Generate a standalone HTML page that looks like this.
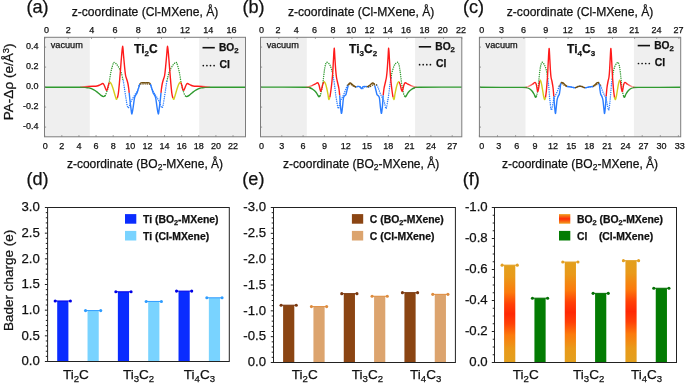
<!DOCTYPE html>
<html><head><meta charset="utf-8"><style>
html,body{margin:0;padding:0;background:#fff;width:685px;height:383px;overflow:hidden}
svg{display:block;will-change:transform}
</style></head><body>
<svg width="685" height="383" viewBox="0 0 685 383" font-family='"Liberation Sans", sans-serif'>
<rect width="685" height="383" fill="#fff"/>
<rect x="44.5" y="37.3" width="45.3" height="99.5" fill="#efefef"/>
<rect x="199.2" y="37.3" width="46.3" height="99.5" fill="#efefef"/>
<clipPath id="clipa"><rect x="44.5" y="37.3" width="201" height="99.5"/></clipPath>
<g clip-path="url(#clipa)">
<path d="M105.3,95.5 C105.5,95 106.1,93.58 106.5,92.5 C106.9,91.42 107.33,90.33 107.7,89 C108.07,87.67 108.4,85.92 108.7,84.5 C109,83.08 109.2,82.25 109.5,80.5 C109.8,78.75 110.15,75.92 110.5,74 C110.85,72.08 111.15,70.73 111.6,69 C112.05,67.27 112.73,64.7 113.2,63.6 C113.67,62.5 113.8,62.25 114.4,62.4 C115,62.55 115.98,63.5 116.8,64.5 C117.62,65.5 118.55,67 119.3,68.4 C120.05,69.8 120.72,71.15 121.3,72.9 C121.88,74.65 122.47,77.57 122.8,78.9 C123.13,80.23 123.22,80.57 123.3,80.9" fill="none" stroke="#2f9a2f" stroke-width="1.45" stroke-dasharray="0.01 2.15" stroke-linecap="round"/>
<path d="M166.9,80.9 C166.98,80.57 167.07,80.23 167.4,78.9 C167.73,77.57 168.32,74.65 168.9,72.9 C169.48,71.15 170.15,69.8 170.9,68.4 C171.65,67 172.58,65.5 173.4,64.5 C174.22,63.5 175.2,62.55 175.8,62.4 C176.4,62.25 176.53,62.5 177,63.6 C177.47,64.7 178.15,67.27 178.6,69 C179.05,70.73 179.35,72.08 179.7,74 C180.05,75.92 180.4,78.75 180.7,80.5 C181,82.25 181.2,83.08 181.5,84.5 C181.8,85.92 182.13,87.67 182.5,89 C182.87,90.33 183.3,91.42 183.7,92.5 C184.1,93.58 184.7,95 184.9,95.5" fill="none" stroke="#2f9a2f" stroke-width="1.45" stroke-dasharray="0.01 2.15" stroke-linecap="round"/>
<path d="M123.3,80.9 C123.48,82.07 123.97,85.07 124.4,87.9 C124.83,90.73 125.43,94.97 125.9,97.9 C126.37,100.83 126.8,103.85 127.2,105.5 C127.6,107.15 127.92,107.8 128.3,107.8 C128.68,107.8 129.08,106.47 129.5,105.5 C129.92,104.53 130.32,103.1 130.8,102 C131.28,100.9 131.73,100.08 132.4,98.9 C133.07,97.72 133.9,96.4 134.8,94.9 C135.7,93.4 137.05,91.48 137.8,89.9 C138.55,88.32 139.05,86.15 139.3,85.4" fill="none" stroke="#2a7cff" stroke-width="1.45" stroke-dasharray="0.01 2.15" stroke-linecap="round"/>
<path d="M150.9,85.4 C151.15,86.15 151.65,88.32 152.4,89.9 C153.15,91.48 154.5,93.4 155.4,94.9 C156.3,96.4 157.13,97.72 157.8,98.9 C158.47,100.08 158.92,100.9 159.4,102 C159.88,103.1 160.28,104.53 160.7,105.5 C161.12,106.47 161.52,107.8 161.9,107.8 C162.28,107.8 162.6,107.15 163,105.5 C163.4,103.85 163.83,100.83 164.3,97.9 C164.77,94.97 165.37,90.73 165.8,87.9 C166.23,85.07 166.72,82.07 166.9,80.9" fill="none" stroke="#2a7cff" stroke-width="1.45" stroke-dasharray="0.01 2.15" stroke-linecap="round"/>
<path d="M139.3,85.6 C139.52,85.37 139.98,84.47 140.6,84.2 C141.22,83.93 142.25,84.05 143,84 C143.75,83.95 144.75,83.92 145.1,83.9" fill="none" stroke="#735010" stroke-width="1.45" stroke-dasharray="0.01 2.15" stroke-linecap="round"/>
<path d="M145.1,83.9 C145.45,83.92 146.45,83.95 147.2,84 C147.95,84.05 148.98,83.93 149.6,84.2 C150.22,84.47 150.68,85.37 150.9,85.6" fill="none" stroke="#735010" stroke-width="1.45" stroke-dasharray="0.01 2.15" stroke-linecap="round"/>
<path d="M44.5,87.2 C50.42,87.22 73.08,87.25 80,87.3 C86.92,87.35 84.5,87.4 86,87.5 C87.5,87.6 88,87.68 89,87.9 C90,88.12 91,88.37 92,88.8 C93,89.23 94,89.83 95,90.5 C96,91.17 97,92 98,92.8 C99,93.6 100.07,94.67 101,95.3 C101.93,95.93 102.88,96.55 103.6,96.6 C104.32,96.65 105.02,95.77 105.3,95.6" fill="none" stroke="#2f9a2f" stroke-width="1.4" stroke-linejoin="round"/>
<path d="M184.9,95.6 C185.18,95.77 185.88,96.65 186.6,96.6 C187.32,96.55 188.27,95.93 189.2,95.3 C190.13,94.67 191.2,93.6 192.2,92.8 C193.2,92 194.2,91.17 195.2,90.5 C196.2,89.83 197.2,89.23 198.2,88.8 C199.2,88.37 200.2,88.12 201.2,87.9 C202.2,87.68 202.7,87.6 204.2,87.5 C205.7,87.4 203.28,87.35 210.2,87.3 C217.12,87.25 239.78,87.22 245.7,87.2" fill="none" stroke="#2f9a2f" stroke-width="1.4" stroke-linejoin="round"/>
<linearGradient id="rfaL" gradientUnits="userSpaceOnUse" x1="80" y1="0" x2="89" y2="0"><stop offset="0" stop-color="#ff1a1a" stop-opacity="0.15"/><stop offset="1" stop-color="#ff1a1a" stop-opacity="1"/></linearGradient>
<linearGradient id="rfaR" gradientUnits="userSpaceOnUse" x1="210.2" y1="0" x2="201.2" y2="0"><stop offset="0" stop-color="#ff1a1a" stop-opacity="0.15"/><stop offset="1" stop-color="#ff1a1a" stop-opacity="1"/></linearGradient>
<path d="M80,86.7 C81.33,86.67 85.83,86.57 88,86.5 C90.17,86.43 91.5,86.38 93,86.3 C94.5,86.22 95.92,86.2 97,86 C98.08,85.8 98.78,85.42 99.5,85.1 C100.22,84.78 100.77,84.37 101.3,84.1 C101.83,83.83 102.23,83.35 102.7,83.5 C103.17,83.65 103.67,84.25 104.1,85 C104.53,85.75 104.92,87.12 105.3,88 C105.68,88.88 106.05,90.1 106.4,90.3 C106.75,90.5 107.08,90 107.4,89.2 C107.72,88.4 107.98,86.6 108.3,85.5 C108.62,84.4 109.13,83.08 109.3,82.6" fill="none" stroke="url(#rfaL)" stroke-width="1.4" stroke-linejoin="round"/>
<path d="M180.9,82.6 C181.07,83.08 181.58,84.4 181.9,85.5 C182.22,86.6 182.48,88.4 182.8,89.2 C183.12,90 183.45,90.5 183.8,90.3 C184.15,90.1 184.52,88.88 184.9,88 C185.28,87.12 185.67,85.75 186.1,85 C186.53,84.25 187.03,83.65 187.5,83.5 C187.97,83.35 188.37,83.83 188.9,84.1 C189.43,84.37 189.98,84.78 190.7,85.1 C191.42,85.42 192.12,85.8 193.2,86 C194.28,86.2 195.7,86.22 197.2,86.3 C198.7,86.38 200.03,86.43 202.2,86.5 C204.37,86.57 208.87,86.67 210.2,86.7" fill="none" stroke="url(#rfaR)" stroke-width="1.4" stroke-linejoin="round"/>
<path d="M109.3,82.6 C109.43,82.57 109.72,82.08 110.1,82.4 C110.48,82.72 111.08,83.4 111.6,84.5 C112.12,85.6 112.67,87.33 113.2,89 C113.73,90.67 114.28,92.8 114.8,94.5 C115.32,96.2 115.87,98.65 116.3,99.2 C116.73,99.75 117.22,98.03 117.4,97.8" fill="none" stroke="#d4cc1c" stroke-width="1.4" stroke-linejoin="round"/>
<path d="M172.8,97.8 C172.98,98.03 173.47,99.75 173.9,99.2 C174.33,98.65 174.88,96.2 175.4,94.5 C175.92,92.8 176.47,90.67 177,89 C177.53,87.33 178.08,85.6 178.6,84.5 C179.12,83.4 179.72,82.72 180.1,82.4 C180.48,82.08 180.77,82.57 180.9,82.6" fill="none" stroke="#d4cc1c" stroke-width="1.4" stroke-linejoin="round"/>
<path d="M117.4,97.8 C117.57,97 118.07,95.47 118.4,93 C118.73,90.53 119.07,86.67 119.4,83 C119.73,79.33 120.05,75.33 120.4,71 C120.75,66.67 121.13,61.12 121.5,57 C121.87,52.88 122.25,46.47 122.6,46.3 C122.95,46.13 123.27,52.55 123.6,56 C123.93,59.45 124.27,63.75 124.6,67 C124.93,70.25 125.23,73.42 125.6,75.5 C125.97,77.58 126.42,78.17 126.8,79.5 C127.18,80.83 127.58,82 127.9,83.5 C128.22,85 128.48,86.95 128.7,88.5 C128.92,90.05 129.12,92.08 129.2,92.8" fill="none" stroke="#ff1a1a" stroke-width="1.4" stroke-linejoin="round"/>
<path d="M161,92.8 C161.08,92.08 161.28,90.05 161.5,88.5 C161.72,86.95 161.98,85 162.3,83.5 C162.62,82 163.02,80.83 163.4,79.5 C163.78,78.17 164.23,77.58 164.6,75.5 C164.97,73.42 165.27,70.25 165.6,67 C165.93,63.75 166.27,59.45 166.6,56 C166.93,52.55 167.25,46.13 167.6,46.3 C167.95,46.47 168.33,52.88 168.7,57 C169.07,61.12 169.45,66.67 169.8,71 C170.15,75.33 170.47,79.33 170.8,83 C171.13,86.67 171.47,90.53 171.8,93 C172.13,95.47 172.63,97 172.8,97.8" fill="none" stroke="#ff1a1a" stroke-width="1.4" stroke-linejoin="round"/>
<path d="M129.2,92.8 C129.32,93.97 129.62,97.3 129.9,99.8 C130.18,102.3 130.57,105.43 130.9,107.8 C131.23,110.17 131.52,114.13 131.9,114 C132.28,113.87 132.77,109.67 133.2,107 C133.63,104.33 134.07,100 134.5,98 C134.93,96 135.38,95.83 135.8,95 C136.22,94.17 136.58,94.02 137,93 C137.42,91.98 137.83,90.4 138.3,88.9 C138.77,87.4 139.55,84.82 139.8,84" fill="none" stroke="#2a7cff" stroke-width="1.4" stroke-linejoin="round"/>
<path d="M150.4,84 C150.65,84.82 151.43,87.4 151.9,88.9 C152.37,90.4 152.78,91.98 153.2,93 C153.62,94.02 153.98,94.17 154.4,95 C154.82,95.83 155.27,96 155.7,98 C156.13,100 156.57,104.33 157,107 C157.43,109.67 157.92,113.87 158.3,114 C158.68,114.13 158.97,110.17 159.3,107.8 C159.63,105.43 160.02,102.3 160.3,99.8 C160.58,97.3 160.88,93.97 161,92.8" fill="none" stroke="#2a7cff" stroke-width="1.4" stroke-linejoin="round"/>
<path d="M139.8,84.2 C139.93,84 140.15,83.23 140.6,83 C141.05,82.77 141.75,82.85 142.5,82.8 C143.25,82.75 144.67,82.72 145.1,82.7" fill="none" stroke="#735010" stroke-width="1.4" stroke-linejoin="round"/>
<path d="M145.1,82.7 C145.53,82.72 146.95,82.75 147.7,82.8 C148.45,82.85 149.15,82.77 149.6,83 C150.05,83.23 150.27,84 150.4,84.2" fill="none" stroke="#735010" stroke-width="1.4" stroke-linejoin="round"/>
</g>
<rect x="44.5" y="37.3" width="201" height="99.5" fill="none" stroke="#7d7d7d" stroke-width="1"/>
<line x1="44.9" y1="37.3" x2="44.9" y2="38.9" stroke="#7d7d7d" stroke-width="0.8"/>
<text x="46.4" y="32.9" font-size="9.0" text-anchor="middle" font-weight="normal" fill="#111" stroke="#111" stroke-width="0.25" >0</text>
<line x1="68.22" y1="37.3" x2="68.22" y2="38.9" stroke="#7d7d7d" stroke-width="0.8"/>
<text x="68.32" y="32.9" font-size="9.0" text-anchor="middle" font-weight="normal" fill="#111" stroke="#111" stroke-width="0.25" >2</text>
<line x1="91.54" y1="37.3" x2="91.54" y2="38.9" stroke="#7d7d7d" stroke-width="0.8"/>
<text x="91.64" y="32.9" font-size="9.0" text-anchor="middle" font-weight="normal" fill="#111" stroke="#111" stroke-width="0.25" >4</text>
<line x1="114.86" y1="37.3" x2="114.86" y2="38.9" stroke="#7d7d7d" stroke-width="0.8"/>
<text x="114.96" y="32.9" font-size="9.0" text-anchor="middle" font-weight="normal" fill="#111" stroke="#111" stroke-width="0.25" >6</text>
<line x1="138.18" y1="37.3" x2="138.18" y2="38.9" stroke="#7d7d7d" stroke-width="0.8"/>
<text x="138.28" y="32.9" font-size="9.0" text-anchor="middle" font-weight="normal" fill="#111" stroke="#111" stroke-width="0.25" >8</text>
<line x1="161.5" y1="37.3" x2="161.5" y2="38.9" stroke="#7d7d7d" stroke-width="0.8"/>
<text x="161.6" y="32.9" font-size="9.0" text-anchor="middle" font-weight="normal" fill="#111" stroke="#111" stroke-width="0.25" >10</text>
<line x1="184.82" y1="37.3" x2="184.82" y2="38.9" stroke="#7d7d7d" stroke-width="0.8"/>
<text x="184.92" y="32.9" font-size="9.0" text-anchor="middle" font-weight="normal" fill="#111" stroke="#111" stroke-width="0.25" >12</text>
<line x1="208.14" y1="37.3" x2="208.14" y2="38.9" stroke="#7d7d7d" stroke-width="0.8"/>
<text x="208.24" y="32.9" font-size="9.0" text-anchor="middle" font-weight="normal" fill="#111" stroke="#111" stroke-width="0.25" >14</text>
<line x1="231.46" y1="37.3" x2="231.46" y2="38.9" stroke="#7d7d7d" stroke-width="0.8"/>
<text x="231.56" y="32.9" font-size="9.0" text-anchor="middle" font-weight="normal" fill="#111" stroke="#111" stroke-width="0.25" >16</text>
<line x1="44.7" y1="136.8" x2="44.7" y2="135.2" stroke="#7d7d7d" stroke-width="0.8"/>
<text x="45.2" y="149.3" font-size="9.0" text-anchor="middle" font-weight="normal" fill="#111" stroke="#111" stroke-width="0.25" >0</text>
<line x1="61.82" y1="136.8" x2="61.82" y2="135.2" stroke="#7d7d7d" stroke-width="0.8"/>
<text x="61.82" y="149.3" font-size="9.0" text-anchor="middle" font-weight="normal" fill="#111" stroke="#111" stroke-width="0.25" >2</text>
<line x1="78.94" y1="136.8" x2="78.94" y2="135.2" stroke="#7d7d7d" stroke-width="0.8"/>
<text x="78.94" y="149.3" font-size="9.0" text-anchor="middle" font-weight="normal" fill="#111" stroke="#111" stroke-width="0.25" >4</text>
<line x1="96.06" y1="136.8" x2="96.06" y2="135.2" stroke="#7d7d7d" stroke-width="0.8"/>
<text x="96.06" y="149.3" font-size="9.0" text-anchor="middle" font-weight="normal" fill="#111" stroke="#111" stroke-width="0.25" >6</text>
<line x1="113.18" y1="136.8" x2="113.18" y2="135.2" stroke="#7d7d7d" stroke-width="0.8"/>
<text x="113.18" y="149.3" font-size="9.0" text-anchor="middle" font-weight="normal" fill="#111" stroke="#111" stroke-width="0.25" >8</text>
<line x1="130.3" y1="136.8" x2="130.3" y2="135.2" stroke="#7d7d7d" stroke-width="0.8"/>
<text x="130.3" y="149.3" font-size="9.0" text-anchor="middle" font-weight="normal" fill="#111" stroke="#111" stroke-width="0.25" >10</text>
<line x1="147.42" y1="136.8" x2="147.42" y2="135.2" stroke="#7d7d7d" stroke-width="0.8"/>
<text x="147.42" y="149.3" font-size="9.0" text-anchor="middle" font-weight="normal" fill="#111" stroke="#111" stroke-width="0.25" >12</text>
<line x1="164.54" y1="136.8" x2="164.54" y2="135.2" stroke="#7d7d7d" stroke-width="0.8"/>
<text x="164.54" y="149.3" font-size="9.0" text-anchor="middle" font-weight="normal" fill="#111" stroke="#111" stroke-width="0.25" >14</text>
<line x1="181.66" y1="136.8" x2="181.66" y2="135.2" stroke="#7d7d7d" stroke-width="0.8"/>
<text x="181.66" y="149.3" font-size="9.0" text-anchor="middle" font-weight="normal" fill="#111" stroke="#111" stroke-width="0.25" >16</text>
<line x1="198.78" y1="136.8" x2="198.78" y2="135.2" stroke="#7d7d7d" stroke-width="0.8"/>
<text x="198.78" y="149.3" font-size="9.0" text-anchor="middle" font-weight="normal" fill="#111" stroke="#111" stroke-width="0.25" >18</text>
<line x1="215.9" y1="136.8" x2="215.9" y2="135.2" stroke="#7d7d7d" stroke-width="0.8"/>
<text x="215.9" y="149.3" font-size="9.0" text-anchor="middle" font-weight="normal" fill="#111" stroke="#111" stroke-width="0.25" >20</text>
<line x1="233.02" y1="136.8" x2="233.02" y2="135.2" stroke="#7d7d7d" stroke-width="0.8"/>
<text x="233.02" y="149.3" font-size="9.0" text-anchor="middle" font-weight="normal" fill="#111" stroke="#111" stroke-width="0.25" >22</text>
<line x1="44.5" y1="47.1" x2="46.1" y2="47.1" stroke="#7d7d7d" stroke-width="0.8"/>
<text x="38.6" y="49.3" font-size="9.0" text-anchor="end" font-weight="normal" fill="#111" stroke="#111" stroke-width="0.25" >0.4</text>
<line x1="44.5" y1="67.1" x2="46.1" y2="67.1" stroke="#7d7d7d" stroke-width="0.8"/>
<text x="38.6" y="69.3" font-size="9.0" text-anchor="end" font-weight="normal" fill="#111" stroke="#111" stroke-width="0.25" >0.2</text>
<line x1="44.5" y1="87.1" x2="46.1" y2="87.1" stroke="#7d7d7d" stroke-width="0.8"/>
<text x="38.6" y="89.3" font-size="9.0" text-anchor="end" font-weight="normal" fill="#111" stroke="#111" stroke-width="0.25" >0.0</text>
<line x1="44.5" y1="107.1" x2="46.1" y2="107.1" stroke="#7d7d7d" stroke-width="0.8"/>
<text x="38.6" y="109.3" font-size="9.0" text-anchor="end" font-weight="normal" fill="#111" stroke="#111" stroke-width="0.25" >-0.2</text>
<line x1="44.5" y1="127.1" x2="46.1" y2="127.1" stroke="#7d7d7d" stroke-width="0.8"/>
<text x="38.6" y="129.3" font-size="9.0" text-anchor="end" font-weight="normal" fill="#111" stroke="#111" stroke-width="0.25" >-0.4</text>
<text x="50.7" y="47.9" font-size="9.2" text-anchor="start" font-weight="normal" fill="#111" stroke="#111" stroke-width="0.25" >vacuum</text>
<text x="134.1" y="52.9" font-size="12" text-anchor="start" font-weight="bold" fill="#111" stroke="#111" stroke-width="0.25" >Ti<tspan font-size="8" dy="2.6">2</tspan><tspan dy="-2.6">C</tspan></text>
<line x1="202.5" y1="47.7" x2="214.8" y2="47.7" stroke="#111" stroke-width="1.6"/>
<circle cx="203.3" cy="65.6" r="0.85" fill="#111"/>
<circle cx="206.9" cy="65.6" r="0.85" fill="#111"/>
<circle cx="210.5" cy="65.6" r="0.85" fill="#111"/>
<circle cx="214.1" cy="65.6" r="0.85" fill="#111"/>
<text x="219" y="51.2" font-size="10.2" text-anchor="start" font-weight="bold" fill="#111" stroke="#111" stroke-width="0.25" >BO<tspan font-size="7.8" dy="1.7">2</tspan></text>
<text x="219.6" y="67.9" font-size="10.4" text-anchor="start" font-weight="bold" fill="#111" stroke="#111" stroke-width="0.25" >Cl</text>
<text x="145" y="15.8" font-size="12.1" text-anchor="middle" font-weight="normal" fill="#111" stroke="#111" stroke-width="0.25" >z-coordinate (Cl-MXene, Å)</text>
<text x="145" y="167.8" font-size="12.0" text-anchor="middle" font-weight="normal" fill="#111" stroke="#111" stroke-width="0.25" >z-coordinate (BO<tspan font-size="8.5" dy="2.5">2</tspan><tspan dy="-2.5">-MXene, Å)</tspan></text>
<text x="26.4" y="13" font-size="18.1" text-anchor="start" font-weight="normal" fill="#111" stroke="#111" stroke-width="0.25" >(a)</text>
<rect x="260.5" y="37.3" width="46.3" height="99.5" fill="#efefef"/>
<rect x="415.1" y="37.3" width="46.7" height="99.5" fill="#efefef"/>
<clipPath id="clipb"><rect x="260.5" y="37.3" width="201.3" height="99.5"/></clipPath>
<g clip-path="url(#clipb)">
<path d="M320.2,95.6 C320.33,95.13 320.7,94.08 321,92.8 C321.3,91.52 321.67,89.72 322,87.9 C322.33,86.08 322.7,84.05 323,81.9 C323.3,79.75 323.53,77.15 323.8,75 C324.07,72.85 324.3,70.83 324.6,69 C324.9,67.17 325.23,65.12 325.6,64 C325.97,62.88 326.27,62.38 326.8,62.3 C327.33,62.22 328.22,62.92 328.8,63.5 C329.38,64.08 329.82,64.75 330.3,65.8 C330.78,66.85 331.3,68.47 331.7,69.8 C332.1,71.13 332.43,72.48 332.7,73.8 C332.97,75.12 333.2,77.05 333.3,77.7" fill="none" stroke="#2f9a2f" stroke-width="1.45" stroke-dasharray="0.01 2.15" stroke-linecap="round"/>
<path d="M391.1,77.7 C391.2,77.05 391.43,75.12 391.7,73.8 C391.97,72.48 392.3,71.13 392.7,69.8 C393.1,68.47 393.62,66.85 394.1,65.8 C394.58,64.75 395.02,64.08 395.6,63.5 C396.18,62.92 397.07,62.22 397.6,62.3 C398.13,62.38 398.43,62.88 398.8,64 C399.17,65.12 399.5,67.17 399.8,69 C400.1,70.83 400.33,72.85 400.6,75 C400.87,77.15 401.1,79.75 401.4,81.9 C401.7,84.05 402.07,86.08 402.4,87.9 C402.73,89.72 403.1,91.52 403.4,92.8 C403.7,94.08 404.07,95.13 404.2,95.6" fill="none" stroke="#2f9a2f" stroke-width="1.45" stroke-dasharray="0.01 2.15" stroke-linecap="round"/>
<path d="M333.3,77.7 C333.42,78.25 333.73,79.3 334,81 C334.27,82.7 334.58,85.42 334.9,87.9 C335.22,90.38 335.57,93.58 335.9,95.9 C336.23,98.22 336.57,99.87 336.9,101.8 C337.23,103.73 337.62,106.42 337.9,107.5 C338.18,108.58 338.32,108.88 338.6,108.3 C338.88,107.72 339.27,105.3 339.6,104 C339.93,102.7 340.17,101.58 340.6,100.5 C341.03,99.42 341.65,98.58 342.2,97.5 C342.75,96.42 343.37,95.25 343.9,94 C344.43,92.75 344.95,91.17 345.4,90 C345.85,88.83 346.25,87.8 346.6,87 C346.95,86.2 347.35,85.5 347.5,85.2" fill="none" stroke="#2a7cff" stroke-width="1.45" stroke-dasharray="0.01 2.15" stroke-linecap="round"/>
<path d="M376.9,85.2 C377.05,85.5 377.45,86.2 377.8,87 C378.15,87.8 378.55,88.83 379,90 C379.45,91.17 379.97,92.75 380.5,94 C381.03,95.25 381.65,96.42 382.2,97.5 C382.75,98.58 383.37,99.42 383.8,100.5 C384.23,101.58 384.47,102.7 384.8,104 C385.13,105.3 385.52,107.72 385.8,108.3 C386.08,108.88 386.22,108.58 386.5,107.5 C386.78,106.42 387.17,103.73 387.5,101.8 C387.83,99.87 388.17,98.22 388.5,95.9 C388.83,93.58 389.18,90.38 389.5,87.9 C389.82,85.42 390.13,82.7 390.4,81 C390.67,79.3 390.98,78.25 391.1,77.7" fill="none" stroke="#2a7cff" stroke-width="1.45" stroke-dasharray="0.01 2.15" stroke-linecap="round"/>
<path d="M347.5,85.2 C347.88,85 349.08,84.03 349.8,84 C350.52,83.97 351.13,84.6 351.8,85 C352.47,85.4 353.13,86.05 353.8,86.4 C354.47,86.75 355.47,86.98 355.8,87.1" fill="none" stroke="#735010" stroke-width="1.45" stroke-dasharray="0.01 2.15" stroke-linecap="round"/>
<path d="M368.6,87.1 C368.93,86.98 369.93,86.75 370.6,86.4 C371.27,86.05 371.93,85.4 372.6,85 C373.27,84.6 373.88,83.97 374.6,84 C375.32,84.03 376.52,85 376.9,85.2" fill="none" stroke="#735010" stroke-width="1.45" stroke-dasharray="0.01 2.15" stroke-linecap="round"/>
<path d="M355.8,87.1 C356.13,87.02 357.13,86.65 357.8,86.6 C358.47,86.55 359.18,86.47 359.8,86.8 C360.42,87.13 361.22,88.3 361.5,88.6" fill="none" stroke="#2a7cff" stroke-width="1.45" stroke-dasharray="0.01 2.15" stroke-linecap="round"/>
<path d="M362.9,88.6 C363.18,88.3 363.98,87.13 364.6,86.8 C365.22,86.47 365.93,86.55 366.6,86.6 C367.27,86.65 368.27,87.02 368.6,87.1" fill="none" stroke="#2a7cff" stroke-width="1.45" stroke-dasharray="0.01 2.15" stroke-linecap="round"/>
<path d="M260.5,87.1 C267.92,87.12 296.75,87.05 305,87.2 C313.25,87.35 308.67,87.62 310,88 C311.33,88.38 312,88.8 313,89.5 C314,90.2 315.17,91.2 316,92.2 C316.83,93.2 317.5,94.73 318,95.5 C318.5,96.27 318.63,96.78 319,96.8 C319.37,96.82 320,95.8 320.2,95.6" fill="none" stroke="#2f9a2f" stroke-width="1.4" stroke-linejoin="round"/>
<path d="M404.2,95.6 C404.4,95.8 405.03,96.82 405.4,96.8 C405.77,96.78 405.9,96.27 406.4,95.5 C406.9,94.73 407.57,93.2 408.4,92.2 C409.23,91.2 410.4,90.2 411.4,89.5 C412.4,88.8 413.07,88.38 414.4,88 C415.73,87.62 411.15,87.35 419.4,87.2 C427.65,87.05 456.48,87.12 463.9,87.1" fill="none" stroke="#2f9a2f" stroke-width="1.4" stroke-linejoin="round"/>
<linearGradient id="rfbL" gradientUnits="userSpaceOnUse" x1="305.5" y1="0" x2="314.5" y2="0"><stop offset="0" stop-color="#ff1a1a" stop-opacity="0.15"/><stop offset="1" stop-color="#ff1a1a" stop-opacity="1"/></linearGradient>
<linearGradient id="rfbR" gradientUnits="userSpaceOnUse" x1="417.4" y1="0" x2="408.4" y2="0"><stop offset="0" stop-color="#ff1a1a" stop-opacity="0.15"/><stop offset="1" stop-color="#ff1a1a" stop-opacity="1"/></linearGradient>
<path d="M305.5,87 C305.73,86.98 306.32,86.97 306.9,86.9 C307.48,86.83 308.15,86.82 309,86.6 C309.85,86.38 311,86 312,85.6 C313,85.2 314.07,84.67 315,84.2 C315.93,83.73 316.95,82.7 317.6,82.8 C318.25,82.9 318.48,83.68 318.9,84.8 C319.32,85.92 319.78,88.4 320.1,89.5 C320.42,90.6 320.53,91.48 320.8,91.4 C321.07,91.32 321.38,90.13 321.7,89 C322.02,87.87 322.35,85.77 322.7,84.6 C323.05,83.43 323.62,82.43 323.8,82" fill="none" stroke="url(#rfbL)" stroke-width="1.4" stroke-linejoin="round"/>
<path d="M399.1,82 C399.28,82.43 399.85,83.43 400.2,84.6 C400.55,85.77 400.88,87.87 401.2,89 C401.52,90.13 401.83,91.32 402.1,91.4 C402.37,91.48 402.48,90.6 402.8,89.5 C403.12,88.4 403.58,85.92 404,84.8 C404.42,83.68 404.65,82.9 405.3,82.8 C405.95,82.7 406.97,83.73 407.9,84.2 C408.83,84.67 409.9,85.2 410.9,85.6 C411.9,86 413.05,86.38 413.9,86.6 C414.75,86.82 415.42,86.83 416,86.9 C416.58,86.97 417.17,86.98 417.4,87" fill="none" stroke="url(#rfbR)" stroke-width="1.4" stroke-linejoin="round"/>
<path d="M323.8,82 C323.88,81.95 324.02,81.4 324.3,81.7 C324.58,82 325.08,82.67 325.5,83.8 C325.92,84.93 326.38,86.72 326.8,88.5 C327.22,90.28 327.67,92.68 328,94.5 C328.33,96.32 328.48,98.95 328.8,99.4 C329.12,99.85 329.72,97.57 329.9,97.2" fill="none" stroke="#d4cc1c" stroke-width="1.4" stroke-linejoin="round"/>
<path d="M393,97.2 C393.18,97.57 393.78,99.85 394.1,99.4 C394.42,98.95 394.57,96.32 394.9,94.5 C395.23,92.68 395.68,90.28 396.1,88.5 C396.52,86.72 396.98,84.93 397.4,83.8 C397.82,82.67 398.32,82 398.6,81.7 C398.88,81.4 399.02,81.95 399.1,82" fill="none" stroke="#d4cc1c" stroke-width="1.4" stroke-linejoin="round"/>
<path d="M329.9,97.2 C330.07,96.08 330.57,93.03 330.9,90.5 C331.23,87.97 331.6,84.92 331.9,82 C332.2,79.08 332.43,76.83 332.7,73 C332.97,69.17 333.25,63.13 333.5,59 C333.75,54.87 333.97,48.37 334.2,48.2 C334.43,48.03 334.65,54.37 334.9,58 C335.15,61.63 335.43,66.75 335.7,70 C335.97,73.25 336.15,75.25 336.5,77.5 C336.85,79.75 337.4,81.67 337.8,83.5 C338.2,85.33 338.58,86.52 338.9,88.5 C339.22,90.48 339.57,94.25 339.7,95.4" fill="none" stroke="#ff1a1a" stroke-width="1.4" stroke-linejoin="round"/>
<path d="M383.2,95.4 C383.33,94.25 383.68,90.48 384,88.5 C384.32,86.52 384.7,85.33 385.1,83.5 C385.5,81.67 386.05,79.75 386.4,77.5 C386.75,75.25 386.93,73.25 387.2,70 C387.47,66.75 387.75,61.63 388,58 C388.25,54.37 388.47,48.03 388.7,48.2 C388.93,48.37 389.15,54.87 389.4,59 C389.65,63.13 389.93,69.17 390.2,73 C390.47,76.83 390.7,79.08 391,82 C391.3,84.92 391.67,87.97 392,90.5 C392.33,93.03 392.83,96.08 393,97.2" fill="none" stroke="#ff1a1a" stroke-width="1.4" stroke-linejoin="round"/>
<path d="M339.7,95.4 C339.82,97.03 340.12,102.22 340.4,105.2 C340.68,108.18 341.07,112.83 341.4,113.3 C341.73,113.77 342.07,110.47 342.4,108 C342.73,105.53 343.05,100.53 343.4,98.5 C343.75,96.47 344.08,96.45 344.5,95.8 C344.92,95.15 345.52,95.4 345.9,94.6 C346.28,93.8 346.48,92.27 346.8,91 C347.12,89.73 347.53,87.93 347.8,87 C348.07,86.07 348.3,85.67 348.4,85.4" fill="none" stroke="#2a7cff" stroke-width="1.4" stroke-linejoin="round"/>
<path d="M374.5,85.4 C374.6,85.67 374.83,86.07 375.1,87 C375.37,87.93 375.78,89.73 376.1,91 C376.42,92.27 376.62,93.8 377,94.6 C377.38,95.4 377.98,95.15 378.4,95.8 C378.82,96.45 379.15,96.47 379.5,98.5 C379.85,100.53 380.17,105.53 380.5,108 C380.83,110.47 381.17,113.77 381.5,113.3 C381.83,112.83 382.22,108.18 382.5,105.2 C382.78,102.22 383.08,97.03 383.2,95.4" fill="none" stroke="#2a7cff" stroke-width="1.4" stroke-linejoin="round"/>
<path d="M348.4,85.4 C348.5,85.1 348.68,84 349,83.6 C349.32,83.2 349.83,82.93 350.3,83 C350.77,83.07 351.3,83.6 351.8,84 C352.3,84.4 352.8,85 353.3,85.4 C353.8,85.8 354.3,86.15 354.8,86.4 C355.3,86.65 356.05,86.82 356.3,86.9" fill="none" stroke="#735010" stroke-width="1.4" stroke-linejoin="round"/>
<path d="M366.6,86.9 C366.85,86.82 367.6,86.65 368.1,86.4 C368.6,86.15 369.1,85.8 369.6,85.4 C370.1,85 370.6,84.4 371.1,84 C371.6,83.6 372.13,83.07 372.6,83 C373.07,82.93 373.58,83.2 373.9,83.6 C374.22,84 374.4,85.1 374.5,85.4" fill="none" stroke="#735010" stroke-width="1.4" stroke-linejoin="round"/>
<path d="M356.3,86.9 C356.55,86.82 357.22,86.43 357.8,86.4 C358.38,86.37 359.18,86.28 359.8,86.7 C360.42,87.12 361.22,88.53 361.5,88.9" fill="none" stroke="#2a7cff" stroke-width="1.4" stroke-linejoin="round"/>
<path d="M361.4,88.9 C361.68,88.53 362.48,87.12 363.1,86.7 C363.72,86.28 364.52,86.37 365.1,86.4 C365.68,86.43 366.35,86.82 366.6,86.9" fill="none" stroke="#2a7cff" stroke-width="1.4" stroke-linejoin="round"/>
</g>
<rect x="260.5" y="37.3" width="201.3" height="99.5" fill="none" stroke="#7d7d7d" stroke-width="1"/>
<line x1="260.5" y1="37.3" x2="260.5" y2="38.9" stroke="#7d7d7d" stroke-width="0.8"/>
<text x="261.4" y="32.9" font-size="9.0" text-anchor="middle" font-weight="normal" fill="#111" stroke="#111" stroke-width="0.25" >0</text>
<line x1="278.8" y1="37.3" x2="278.8" y2="38.9" stroke="#7d7d7d" stroke-width="0.8"/>
<text x="278" y="32.9" font-size="9.0" text-anchor="middle" font-weight="normal" fill="#111" stroke="#111" stroke-width="0.25" >2</text>
<line x1="297.1" y1="37.3" x2="297.1" y2="38.9" stroke="#7d7d7d" stroke-width="0.8"/>
<text x="296.3" y="32.9" font-size="9.0" text-anchor="middle" font-weight="normal" fill="#111" stroke="#111" stroke-width="0.25" >4</text>
<line x1="315.4" y1="37.3" x2="315.4" y2="38.9" stroke="#7d7d7d" stroke-width="0.8"/>
<text x="314.6" y="32.9" font-size="9.0" text-anchor="middle" font-weight="normal" fill="#111" stroke="#111" stroke-width="0.25" >6</text>
<line x1="333.7" y1="37.3" x2="333.7" y2="38.9" stroke="#7d7d7d" stroke-width="0.8"/>
<text x="332.9" y="32.9" font-size="9.0" text-anchor="middle" font-weight="normal" fill="#111" stroke="#111" stroke-width="0.25" >8</text>
<line x1="352" y1="37.3" x2="352" y2="38.9" stroke="#7d7d7d" stroke-width="0.8"/>
<text x="351.2" y="32.9" font-size="9.0" text-anchor="middle" font-weight="normal" fill="#111" stroke="#111" stroke-width="0.25" >10</text>
<line x1="370.3" y1="37.3" x2="370.3" y2="38.9" stroke="#7d7d7d" stroke-width="0.8"/>
<text x="369.5" y="32.9" font-size="9.0" text-anchor="middle" font-weight="normal" fill="#111" stroke="#111" stroke-width="0.25" >12</text>
<line x1="388.6" y1="37.3" x2="388.6" y2="38.9" stroke="#7d7d7d" stroke-width="0.8"/>
<text x="387.8" y="32.9" font-size="9.0" text-anchor="middle" font-weight="normal" fill="#111" stroke="#111" stroke-width="0.25" >14</text>
<line x1="406.9" y1="37.3" x2="406.9" y2="38.9" stroke="#7d7d7d" stroke-width="0.8"/>
<text x="406.1" y="32.9" font-size="9.0" text-anchor="middle" font-weight="normal" fill="#111" stroke="#111" stroke-width="0.25" >16</text>
<line x1="425.2" y1="37.3" x2="425.2" y2="38.9" stroke="#7d7d7d" stroke-width="0.8"/>
<text x="424.4" y="32.9" font-size="9.0" text-anchor="middle" font-weight="normal" fill="#111" stroke="#111" stroke-width="0.25" >18</text>
<line x1="443.5" y1="37.3" x2="443.5" y2="38.9" stroke="#7d7d7d" stroke-width="0.8"/>
<text x="442.7" y="32.9" font-size="9.0" text-anchor="middle" font-weight="normal" fill="#111" stroke="#111" stroke-width="0.25" >20</text>
<line x1="461.8" y1="37.3" x2="461.8" y2="38.9" stroke="#7d7d7d" stroke-width="0.8"/>
<text x="461" y="32.9" font-size="9.0" text-anchor="middle" font-weight="normal" fill="#111" stroke="#111" stroke-width="0.25" >22</text>
<line x1="260.5" y1="136.8" x2="260.5" y2="135.2" stroke="#7d7d7d" stroke-width="0.8"/>
<text x="261.5" y="149.3" font-size="9.0" text-anchor="middle" font-weight="normal" fill="#111" stroke="#111" stroke-width="0.25" >0</text>
<line x1="281.8" y1="136.8" x2="281.8" y2="135.2" stroke="#7d7d7d" stroke-width="0.8"/>
<text x="281.8" y="149.3" font-size="9.0" text-anchor="middle" font-weight="normal" fill="#111" stroke="#111" stroke-width="0.25" >3</text>
<line x1="303.1" y1="136.8" x2="303.1" y2="135.2" stroke="#7d7d7d" stroke-width="0.8"/>
<text x="303.1" y="149.3" font-size="9.0" text-anchor="middle" font-weight="normal" fill="#111" stroke="#111" stroke-width="0.25" >6</text>
<line x1="324.4" y1="136.8" x2="324.4" y2="135.2" stroke="#7d7d7d" stroke-width="0.8"/>
<text x="324.4" y="149.3" font-size="9.0" text-anchor="middle" font-weight="normal" fill="#111" stroke="#111" stroke-width="0.25" >9</text>
<line x1="345.7" y1="136.8" x2="345.7" y2="135.2" stroke="#7d7d7d" stroke-width="0.8"/>
<text x="345.7" y="149.3" font-size="9.0" text-anchor="middle" font-weight="normal" fill="#111" stroke="#111" stroke-width="0.25" >12</text>
<line x1="367" y1="136.8" x2="367" y2="135.2" stroke="#7d7d7d" stroke-width="0.8"/>
<text x="367" y="149.3" font-size="9.0" text-anchor="middle" font-weight="normal" fill="#111" stroke="#111" stroke-width="0.25" >15</text>
<line x1="388.3" y1="136.8" x2="388.3" y2="135.2" stroke="#7d7d7d" stroke-width="0.8"/>
<text x="388.3" y="149.3" font-size="9.0" text-anchor="middle" font-weight="normal" fill="#111" stroke="#111" stroke-width="0.25" >18</text>
<line x1="409.6" y1="136.8" x2="409.6" y2="135.2" stroke="#7d7d7d" stroke-width="0.8"/>
<text x="409.6" y="149.3" font-size="9.0" text-anchor="middle" font-weight="normal" fill="#111" stroke="#111" stroke-width="0.25" >21</text>
<line x1="430.9" y1="136.8" x2="430.9" y2="135.2" stroke="#7d7d7d" stroke-width="0.8"/>
<text x="430.9" y="149.3" font-size="9.0" text-anchor="middle" font-weight="normal" fill="#111" stroke="#111" stroke-width="0.25" >24</text>
<line x1="452.2" y1="136.8" x2="452.2" y2="135.2" stroke="#7d7d7d" stroke-width="0.8"/>
<text x="452.2" y="149.3" font-size="9.0" text-anchor="middle" font-weight="normal" fill="#111" stroke="#111" stroke-width="0.25" >27</text>
<line x1="260.5" y1="47.1" x2="262.1" y2="47.1" stroke="#7d7d7d" stroke-width="0.8"/>
<line x1="260.5" y1="67.1" x2="262.1" y2="67.1" stroke="#7d7d7d" stroke-width="0.8"/>
<line x1="260.5" y1="87.1" x2="262.1" y2="87.1" stroke="#7d7d7d" stroke-width="0.8"/>
<line x1="260.5" y1="107.1" x2="262.1" y2="107.1" stroke="#7d7d7d" stroke-width="0.8"/>
<line x1="260.5" y1="127.1" x2="262.1" y2="127.1" stroke="#7d7d7d" stroke-width="0.8"/>
<text x="266.7" y="47.9" font-size="9.2" text-anchor="start" font-weight="normal" fill="#111" stroke="#111" stroke-width="0.25" >vacuum</text>
<text x="349.1" y="52.9" font-size="12" text-anchor="start" font-weight="bold" fill="#111" stroke="#111" stroke-width="0.25" >Ti<tspan font-size="8" dy="2.6">3</tspan><tspan dy="-2.6">C</tspan><tspan font-size="8" dy="2.6">2</tspan></text>
<line x1="418.8" y1="46.8" x2="431.1" y2="46.8" stroke="#111" stroke-width="1.6"/>
<circle cx="419.6" cy="64.7" r="0.85" fill="#111"/>
<circle cx="423.2" cy="64.7" r="0.85" fill="#111"/>
<circle cx="426.8" cy="64.7" r="0.85" fill="#111"/>
<circle cx="430.4" cy="64.7" r="0.85" fill="#111"/>
<text x="435.3" y="50.3" font-size="10.2" text-anchor="start" font-weight="bold" fill="#111" stroke="#111" stroke-width="0.25" >BO<tspan font-size="7.8" dy="1.7">2</tspan></text>
<text x="435.9" y="67" font-size="10.4" text-anchor="start" font-weight="bold" fill="#111" stroke="#111" stroke-width="0.25" >Cl</text>
<text x="361.15" y="15.8" font-size="12.1" text-anchor="middle" font-weight="normal" fill="#111" stroke="#111" stroke-width="0.25" >z-coordinate (Cl-MXene, Å)</text>
<text x="361.15" y="167.8" font-size="12.0" text-anchor="middle" font-weight="normal" fill="#111" stroke="#111" stroke-width="0.25" >z-coordinate (BO<tspan font-size="8.5" dy="2.5">2</tspan><tspan dy="-2.5">-MXene, Å)</tspan></text>
<text x="242.5" y="13" font-size="18.1" text-anchor="start" font-weight="normal" fill="#111" stroke="#111" stroke-width="0.25" >(b)</text>
<rect x="479.4" y="37.3" width="46.1" height="99.5" fill="#efefef"/>
<rect x="633.9" y="37.3" width="46.8" height="99.5" fill="#efefef"/>
<clipPath id="clipc"><rect x="479.4" y="37.3" width="201.3" height="99.5"/></clipPath>
<g clip-path="url(#clipc)">
<path d="M536.5,96 C536.62,95.5 536.95,94.33 537.2,93 C537.45,91.67 537.77,89.67 538,88 C538.23,86.33 538.42,84.75 538.6,83 C538.78,81.25 538.92,79.33 539.1,77.5 C539.28,75.67 539.47,73.83 539.7,72 C539.93,70.17 540.15,68.1 540.5,66.5 C540.85,64.9 541.3,62.9 541.8,62.4 C542.3,61.9 542.97,62.9 543.5,63.5 C544.03,64.1 544.53,64.92 545,66 C545.47,67.08 545.93,68.5 546.3,70 C546.67,71.5 546.95,73.5 547.2,75 C547.45,76.5 547.7,78.33 547.8,79" fill="none" stroke="#2f9a2f" stroke-width="1.45" stroke-dasharray="0.01 2.15" stroke-linecap="round"/>
<path d="M612.2,79 C612.3,78.33 612.55,76.5 612.8,75 C613.05,73.5 613.33,71.5 613.7,70 C614.07,68.5 614.53,67.08 615,66 C615.47,64.92 615.97,64.1 616.5,63.5 C617.03,62.9 617.7,61.9 618.2,62.4 C618.7,62.9 619.15,64.9 619.5,66.5 C619.85,68.1 620.07,70.17 620.3,72 C620.53,73.83 620.72,75.67 620.9,77.5 C621.08,79.33 621.22,81.25 621.4,83 C621.58,84.75 621.77,86.33 622,88 C622.23,89.67 622.55,91.67 622.8,93 C623.05,94.33 623.38,95.5 623.5,96" fill="none" stroke="#2f9a2f" stroke-width="1.45" stroke-dasharray="0.01 2.15" stroke-linecap="round"/>
<path d="M547.8,79 C547.9,79.67 548.22,81.5 548.4,83 C548.58,84.5 548.73,86 548.9,88 C549.07,90 549.23,93 549.4,95 C549.57,97 549.73,98.33 549.9,100 C550.07,101.67 550.22,103.53 550.4,105 C550.58,106.47 550.8,107.97 551,108.8 C551.2,109.63 551.35,110.55 551.6,110 C551.85,109.45 552.18,107.08 552.5,105.5 C552.82,103.92 553.17,101.87 553.5,100.5 C553.83,99.13 554.17,98.18 554.5,97.3 C554.83,96.42 555.17,95.88 555.5,95.2 C555.83,94.52 556.17,93.9 556.5,93.2 C556.83,92.5 557.17,91.87 557.5,91 C557.83,90.13 558.22,88.83 558.5,88 C558.78,87.17 559.08,86.33 559.2,86" fill="none" stroke="#2a7cff" stroke-width="1.45" stroke-dasharray="0.01 2.15" stroke-linecap="round"/>
<path d="M600.8,86 C600.92,86.33 601.22,87.17 601.5,88 C601.78,88.83 602.17,90.13 602.5,91 C602.83,91.87 603.17,92.5 603.5,93.2 C603.83,93.9 604.17,94.52 604.5,95.2 C604.83,95.88 605.17,96.42 605.5,97.3 C605.83,98.18 606.17,99.13 606.5,100.5 C606.83,101.87 607.18,103.92 607.5,105.5 C607.82,107.08 608.15,109.45 608.4,110 C608.65,110.55 608.8,109.63 609,108.8 C609.2,107.97 609.42,106.47 609.6,105 C609.78,103.53 609.93,101.67 610.1,100 C610.27,98.33 610.43,97 610.6,95 C610.77,93 610.93,90 611.1,88 C611.27,86 611.42,84.5 611.6,83 C611.78,81.5 612.1,79.67 612.2,79" fill="none" stroke="#2a7cff" stroke-width="1.45" stroke-dasharray="0.01 2.15" stroke-linecap="round"/>
<path d="M559.2,86 C559.37,85.72 559.8,84.72 560.2,84.3 C560.6,83.88 561.1,83.47 561.6,83.5 C562.1,83.53 562.63,84.15 563.2,84.5 C563.77,84.85 564.37,85.25 565,85.6 C565.63,85.95 566.67,86.43 567,86.6" fill="none" stroke="#735010" stroke-width="1.45" stroke-dasharray="0.01 2.15" stroke-linecap="round"/>
<path d="M593,86.6 C593.33,86.43 594.37,85.95 595,85.6 C595.63,85.25 596.23,84.85 596.8,84.5 C597.37,84.15 597.9,83.53 598.4,83.5 C598.9,83.47 599.4,83.88 599.8,84.3 C600.2,84.72 600.63,85.72 600.8,86" fill="none" stroke="#735010" stroke-width="1.45" stroke-dasharray="0.01 2.15" stroke-linecap="round"/>
<path d="M567,86.6 C567.5,86.65 569,86.75 570,86.9 C571,87.05 572.17,87.37 573,87.5 C573.83,87.63 574.42,87.75 575,87.7 C575.58,87.65 576,87.38 576.5,87.2 C577,87.02 577.42,86.75 578,86.6 C578.58,86.45 579.67,86.35 580,86.3" fill="none" stroke="#2a7cff" stroke-width="1.45" stroke-dasharray="0.01 2.15" stroke-linecap="round"/>
<path d="M580,86.3 C580.33,86.35 581.42,86.45 582,86.6 C582.58,86.75 583,87.02 583.5,87.2 C584,87.38 584.42,87.65 585,87.7 C585.58,87.75 586.17,87.63 587,87.5 C587.83,87.37 589,87.05 590,86.9 C591,86.75 592.5,86.65 593,86.6" fill="none" stroke="#2a7cff" stroke-width="1.45" stroke-dasharray="0.01 2.15" stroke-linecap="round"/>
<path d="M479.4,87.3 C486.5,87.32 514.23,87.35 522,87.4 C529.77,87.45 524.83,87.42 526,87.6 C527.17,87.78 528,87.93 529,88.5 C530,89.07 531.17,90.08 532,91 C532.83,91.92 533.42,92.97 534,94 C534.58,95.03 535.08,96.87 535.5,97.2 C535.92,97.53 536.33,96.2 536.5,96" fill="none" stroke="#2f9a2f" stroke-width="1.4" stroke-linejoin="round"/>
<path d="M623.5,96 C623.67,96.2 624.08,97.53 624.5,97.2 C624.92,96.87 625.42,95.03 626,94 C626.58,92.97 627.17,91.92 628,91 C628.83,90.08 630,89.07 631,88.5 C632,87.93 632.83,87.78 634,87.6 C635.17,87.42 630.23,87.45 638,87.4 C645.77,87.35 673.5,87.32 680.6,87.3" fill="none" stroke="#2f9a2f" stroke-width="1.4" stroke-linejoin="round"/>
<linearGradient id="rfcL" gradientUnits="userSpaceOnUse" x1="524.8" y1="0" x2="533.8" y2="0"><stop offset="0" stop-color="#ff1a1a" stop-opacity="0.15"/><stop offset="1" stop-color="#ff1a1a" stop-opacity="1"/></linearGradient>
<linearGradient id="rfcR" gradientUnits="userSpaceOnUse" x1="635.2" y1="0" x2="626.2" y2="0"><stop offset="0" stop-color="#ff1a1a" stop-opacity="0.15"/><stop offset="1" stop-color="#ff1a1a" stop-opacity="1"/></linearGradient>
<path d="M524.8,87.2 C524.98,87.18 525.37,87.2 525.9,87.1 C526.43,87 527.15,86.92 528,86.6 C528.85,86.28 530.17,85.67 531,85.2 C531.83,84.73 532.32,84.27 533,83.8 C533.68,83.33 534.55,82.28 535.1,82.4 C535.65,82.52 535.95,83.32 536.3,84.5 C536.65,85.68 536.95,88.32 537.2,89.5 C537.45,90.68 537.57,91.77 537.8,91.6 C538.03,91.43 538.33,89.93 538.6,88.5 C538.87,87.07 539.17,84.32 539.4,83 C539.63,81.68 539.9,81 540,80.6" fill="none" stroke="url(#rfcL)" stroke-width="1.4" stroke-linejoin="round"/>
<path d="M620,80.6 C620.1,81 620.37,81.68 620.6,83 C620.83,84.32 621.13,87.07 621.4,88.5 C621.67,89.93 621.97,91.43 622.2,91.6 C622.43,91.77 622.55,90.68 622.8,89.5 C623.05,88.32 623.35,85.68 623.7,84.5 C624.05,83.32 624.35,82.52 624.9,82.4 C625.45,82.28 626.32,83.33 627,83.8 C627.68,84.27 628.17,84.73 629,85.2 C629.83,85.67 631.15,86.28 632,86.6 C632.85,86.92 633.57,87 634.1,87.1 C634.63,87.2 635.02,87.18 635.2,87.2" fill="none" stroke="url(#rfcR)" stroke-width="1.4" stroke-linejoin="round"/>
<path d="M540,80.6 C540.07,80.55 540.15,79.77 540.4,80.3 C540.65,80.83 541.15,82.27 541.5,83.8 C541.85,85.33 542.17,87.55 542.5,89.5 C542.83,91.45 543.17,93.82 543.5,95.5 C543.83,97.18 544.17,99.3 544.5,99.6 C544.83,99.9 545.33,97.68 545.5,97.3" fill="none" stroke="#d4cc1c" stroke-width="1.4" stroke-linejoin="round"/>
<path d="M614.5,97.3 C614.67,97.68 615.17,99.9 615.5,99.6 C615.83,99.3 616.17,97.18 616.5,95.5 C616.83,93.82 617.17,91.45 617.5,89.5 C617.83,87.55 618.15,85.33 618.5,83.8 C618.85,82.27 619.35,80.83 619.6,80.3 C619.85,79.77 619.93,80.55 620,80.6" fill="none" stroke="#d4cc1c" stroke-width="1.4" stroke-linejoin="round"/>
<path d="M545.5,97.3 C545.65,96.17 546.13,93.05 546.4,90.5 C546.67,87.95 546.9,84.58 547.1,82 C547.3,79.42 547.4,78.5 547.6,75 C547.8,71.5 548.05,65.42 548.3,61 C548.55,56.58 548.85,48.83 549.1,48.5 C549.35,48.17 549.58,55.42 549.8,59 C550.02,62.58 550.2,67 550.4,70 C550.6,73 550.73,75.08 551,77 C551.27,78.92 551.67,79.75 552,81.5 C552.33,83.25 552.75,85.67 553,87.5 C553.25,89.33 553.37,91 553.5,92.5 C553.63,94 553.75,95.83 553.8,96.5" fill="none" stroke="#ff1a1a" stroke-width="1.4" stroke-linejoin="round"/>
<path d="M606.2,96.5 C606.25,95.83 606.37,94 606.5,92.5 C606.63,91 606.75,89.33 607,87.5 C607.25,85.67 607.67,83.25 608,81.5 C608.33,79.75 608.73,78.92 609,77 C609.27,75.08 609.4,73 609.6,70 C609.8,67 609.98,62.58 610.2,59 C610.42,55.42 610.65,48.17 610.9,48.5 C611.15,48.83 611.45,56.58 611.7,61 C611.95,65.42 612.2,71.5 612.4,75 C612.6,78.5 612.7,79.42 612.9,82 C613.1,84.58 613.33,87.95 613.6,90.5 C613.87,93.05 614.35,96.17 614.5,97.3" fill="none" stroke="#ff1a1a" stroke-width="1.4" stroke-linejoin="round"/>
<path d="M553.8,96.5 C553.92,98 554.23,102.68 554.5,105.5 C554.77,108.32 555.12,112.98 555.4,113.4 C555.68,113.82 555.93,110.15 556.2,108 C556.47,105.85 556.73,102.3 557,100.5 C557.27,98.7 557.55,98.02 557.8,97.2 C558.05,96.38 558.25,96.08 558.5,95.6 C558.75,95.12 559.05,95.23 559.3,94.3 C559.55,93.37 559.8,91.47 560,90 C560.2,88.53 560.33,86.63 560.5,85.5 C560.67,84.37 560.92,83.58 561,83.2" fill="none" stroke="#2a7cff" stroke-width="1.4" stroke-linejoin="round"/>
<path d="M599,83.2 C599.08,83.58 599.33,84.37 599.5,85.5 C599.67,86.63 599.8,88.53 600,90 C600.2,91.47 600.45,93.37 600.7,94.3 C600.95,95.23 601.25,95.12 601.5,95.6 C601.75,96.08 601.95,96.38 602.2,97.2 C602.45,98.02 602.73,98.7 603,100.5 C603.27,102.3 603.53,105.85 603.8,108 C604.07,110.15 604.32,113.82 604.6,113.4 C604.88,112.98 605.23,108.32 605.5,105.5 C605.77,102.68 606.08,98 606.2,96.5" fill="none" stroke="#2a7cff" stroke-width="1.4" stroke-linejoin="round"/>
<path d="M561,83.2 C561.1,83.08 561.27,82.55 561.6,82.5 C561.93,82.45 562.52,82.6 563,82.9 C563.48,83.2 564,83.85 564.5,84.3 C565,84.75 565.58,85.25 566,85.6 C566.42,85.95 566.83,86.27 567,86.4" fill="none" stroke="#735010" stroke-width="1.4" stroke-linejoin="round"/>
<path d="M593,86.4 C593.17,86.27 593.58,85.95 594,85.6 C594.42,85.25 595,84.75 595.5,84.3 C596,83.85 596.52,83.2 597,82.9 C597.48,82.6 598.07,82.45 598.4,82.5 C598.73,82.55 598.9,83.08 599,83.2" fill="none" stroke="#735010" stroke-width="1.4" stroke-linejoin="round"/>
<path d="M567,86.4 C567.5,86.45 569,86.53 570,86.7 C571,86.87 572.17,87.22 573,87.4 C573.83,87.58 574.67,87.73 575,87.8" fill="none" stroke="#2a7cff" stroke-width="1.4" stroke-linejoin="round"/>
<path d="M585,87.8 C585.33,87.73 586.17,87.58 587,87.4 C587.83,87.22 589,86.87 590,86.7 C591,86.53 592.5,86.45 593,86.4" fill="none" stroke="#2a7cff" stroke-width="1.4" stroke-linejoin="round"/>
<path d="M575,87.8 C575.2,87.73 575.7,87.62 576.2,87.4 C576.7,87.18 577.37,86.7 578,86.5 C578.63,86.3 579.67,86.25 580,86.2" fill="none" stroke="#735010" stroke-width="1.4" stroke-linejoin="round"/>
<path d="M580,86.2 C580.33,86.25 581.37,86.3 582,86.5 C582.63,86.7 583.3,87.18 583.8,87.4 C584.3,87.62 584.8,87.73 585,87.8" fill="none" stroke="#735010" stroke-width="1.4" stroke-linejoin="round"/>
</g>
<rect x="479.4" y="37.3" width="201.3" height="99.5" fill="none" stroke="#7d7d7d" stroke-width="1"/>
<line x1="479.6" y1="37.3" x2="479.6" y2="38.9" stroke="#7d7d7d" stroke-width="0.8"/>
<text x="481.8" y="32.9" font-size="9.0" text-anchor="middle" font-weight="normal" fill="#111" stroke="#111" stroke-width="0.25" >0</text>
<line x1="501.74" y1="37.3" x2="501.74" y2="38.9" stroke="#7d7d7d" stroke-width="0.8"/>
<text x="501.44" y="32.9" font-size="9.0" text-anchor="middle" font-weight="normal" fill="#111" stroke="#111" stroke-width="0.25" >3</text>
<line x1="523.88" y1="37.3" x2="523.88" y2="38.9" stroke="#7d7d7d" stroke-width="0.8"/>
<text x="523.58" y="32.9" font-size="9.0" text-anchor="middle" font-weight="normal" fill="#111" stroke="#111" stroke-width="0.25" >6</text>
<line x1="546.02" y1="37.3" x2="546.02" y2="38.9" stroke="#7d7d7d" stroke-width="0.8"/>
<text x="545.72" y="32.9" font-size="9.0" text-anchor="middle" font-weight="normal" fill="#111" stroke="#111" stroke-width="0.25" >9</text>
<line x1="568.16" y1="37.3" x2="568.16" y2="38.9" stroke="#7d7d7d" stroke-width="0.8"/>
<text x="567.86" y="32.9" font-size="9.0" text-anchor="middle" font-weight="normal" fill="#111" stroke="#111" stroke-width="0.25" >12</text>
<line x1="590.3" y1="37.3" x2="590.3" y2="38.9" stroke="#7d7d7d" stroke-width="0.8"/>
<text x="590" y="32.9" font-size="9.0" text-anchor="middle" font-weight="normal" fill="#111" stroke="#111" stroke-width="0.25" >15</text>
<line x1="612.44" y1="37.3" x2="612.44" y2="38.9" stroke="#7d7d7d" stroke-width="0.8"/>
<text x="612.14" y="32.9" font-size="9.0" text-anchor="middle" font-weight="normal" fill="#111" stroke="#111" stroke-width="0.25" >18</text>
<line x1="634.58" y1="37.3" x2="634.58" y2="38.9" stroke="#7d7d7d" stroke-width="0.8"/>
<text x="634.28" y="32.9" font-size="9.0" text-anchor="middle" font-weight="normal" fill="#111" stroke="#111" stroke-width="0.25" >21</text>
<line x1="656.72" y1="37.3" x2="656.72" y2="38.9" stroke="#7d7d7d" stroke-width="0.8"/>
<text x="656.42" y="32.9" font-size="9.0" text-anchor="middle" font-weight="normal" fill="#111" stroke="#111" stroke-width="0.25" >24</text>
<line x1="678.86" y1="37.3" x2="678.86" y2="38.9" stroke="#7d7d7d" stroke-width="0.8"/>
<text x="678.56" y="32.9" font-size="9.0" text-anchor="middle" font-weight="normal" fill="#111" stroke="#111" stroke-width="0.25" >27</text>
<line x1="479.4" y1="136.8" x2="479.4" y2="135.2" stroke="#7d7d7d" stroke-width="0.8"/>
<text x="481.7" y="149.3" font-size="9.0" text-anchor="middle" font-weight="normal" fill="#111" stroke="#111" stroke-width="0.25" >0</text>
<line x1="497.49" y1="136.8" x2="497.49" y2="135.2" stroke="#7d7d7d" stroke-width="0.8"/>
<text x="498.79" y="149.3" font-size="9.0" text-anchor="middle" font-weight="normal" fill="#111" stroke="#111" stroke-width="0.25" >3</text>
<line x1="515.58" y1="136.8" x2="515.58" y2="135.2" stroke="#7d7d7d" stroke-width="0.8"/>
<text x="516.88" y="149.3" font-size="9.0" text-anchor="middle" font-weight="normal" fill="#111" stroke="#111" stroke-width="0.25" >6</text>
<line x1="533.67" y1="136.8" x2="533.67" y2="135.2" stroke="#7d7d7d" stroke-width="0.8"/>
<text x="534.97" y="149.3" font-size="9.0" text-anchor="middle" font-weight="normal" fill="#111" stroke="#111" stroke-width="0.25" >9</text>
<line x1="551.76" y1="136.8" x2="551.76" y2="135.2" stroke="#7d7d7d" stroke-width="0.8"/>
<text x="553.06" y="149.3" font-size="9.0" text-anchor="middle" font-weight="normal" fill="#111" stroke="#111" stroke-width="0.25" >12</text>
<line x1="569.85" y1="136.8" x2="569.85" y2="135.2" stroke="#7d7d7d" stroke-width="0.8"/>
<text x="571.15" y="149.3" font-size="9.0" text-anchor="middle" font-weight="normal" fill="#111" stroke="#111" stroke-width="0.25" >15</text>
<line x1="587.94" y1="136.8" x2="587.94" y2="135.2" stroke="#7d7d7d" stroke-width="0.8"/>
<text x="589.24" y="149.3" font-size="9.0" text-anchor="middle" font-weight="normal" fill="#111" stroke="#111" stroke-width="0.25" >18</text>
<line x1="606.03" y1="136.8" x2="606.03" y2="135.2" stroke="#7d7d7d" stroke-width="0.8"/>
<text x="607.33" y="149.3" font-size="9.0" text-anchor="middle" font-weight="normal" fill="#111" stroke="#111" stroke-width="0.25" >21</text>
<line x1="624.12" y1="136.8" x2="624.12" y2="135.2" stroke="#7d7d7d" stroke-width="0.8"/>
<text x="625.42" y="149.3" font-size="9.0" text-anchor="middle" font-weight="normal" fill="#111" stroke="#111" stroke-width="0.25" >24</text>
<line x1="642.21" y1="136.8" x2="642.21" y2="135.2" stroke="#7d7d7d" stroke-width="0.8"/>
<text x="643.51" y="149.3" font-size="9.0" text-anchor="middle" font-weight="normal" fill="#111" stroke="#111" stroke-width="0.25" >27</text>
<line x1="660.3" y1="136.8" x2="660.3" y2="135.2" stroke="#7d7d7d" stroke-width="0.8"/>
<text x="661.6" y="149.3" font-size="9.0" text-anchor="middle" font-weight="normal" fill="#111" stroke="#111" stroke-width="0.25" >30</text>
<line x1="678.39" y1="136.8" x2="678.39" y2="135.2" stroke="#7d7d7d" stroke-width="0.8"/>
<text x="679.69" y="149.3" font-size="9.0" text-anchor="middle" font-weight="normal" fill="#111" stroke="#111" stroke-width="0.25" >33</text>
<line x1="479.4" y1="47.1" x2="481" y2="47.1" stroke="#7d7d7d" stroke-width="0.8"/>
<line x1="479.4" y1="67.1" x2="481" y2="67.1" stroke="#7d7d7d" stroke-width="0.8"/>
<line x1="479.4" y1="87.1" x2="481" y2="87.1" stroke="#7d7d7d" stroke-width="0.8"/>
<line x1="479.4" y1="107.1" x2="481" y2="107.1" stroke="#7d7d7d" stroke-width="0.8"/>
<line x1="479.4" y1="127.1" x2="481" y2="127.1" stroke="#7d7d7d" stroke-width="0.8"/>
<text x="485.6" y="47.9" font-size="9.2" text-anchor="start" font-weight="normal" fill="#111" stroke="#111" stroke-width="0.25" >vacuum</text>
<text x="567.1" y="52.9" font-size="12" text-anchor="start" font-weight="bold" fill="#111" stroke="#111" stroke-width="0.25" >Ti<tspan font-size="8" dy="2.6">4</tspan><tspan dy="-2.6">C</tspan><tspan font-size="8" dy="2.6">3</tspan></text>
<line x1="637.7" y1="45.6" x2="650" y2="45.6" stroke="#111" stroke-width="1.6"/>
<circle cx="638.5" cy="63.5" r="0.85" fill="#111"/>
<circle cx="642.1" cy="63.5" r="0.85" fill="#111"/>
<circle cx="645.7" cy="63.5" r="0.85" fill="#111"/>
<circle cx="649.3" cy="63.5" r="0.85" fill="#111"/>
<text x="654.2" y="49.1" font-size="10.2" text-anchor="start" font-weight="bold" fill="#111" stroke="#111" stroke-width="0.25" >BO<tspan font-size="7.8" dy="1.7">2</tspan></text>
<text x="654.8" y="65.8" font-size="10.4" text-anchor="start" font-weight="bold" fill="#111" stroke="#111" stroke-width="0.25" >Cl</text>
<text x="580.05" y="15.8" font-size="12.1" text-anchor="middle" font-weight="normal" fill="#111" stroke="#111" stroke-width="0.25" >z-coordinate (Cl-MXene, Å)</text>
<text x="580.05" y="167.8" font-size="12.0" text-anchor="middle" font-weight="normal" fill="#111" stroke="#111" stroke-width="0.25" >z-coordinate (BO<tspan font-size="8.5" dy="2.5">2</tspan><tspan dy="-2.5">-MXene, Å)</tspan></text>
<text x="463" y="13" font-size="18.1" text-anchor="start" font-weight="normal" fill="#111" stroke="#111" stroke-width="0.25" >(c)</text>
<text transform="translate(12.9,81.9) rotate(-90)" font-size="13.6" text-anchor="middle" fill="#111" stroke="#111" stroke-width="0.25">PA-Δρ (e/Å<tspan font-size="9.4" dy="-3.6">3</tspan><tspan dy="3.6">)</tspan></text>
<defs><linearGradient id="gb" x1="0" y1="0" x2="0" y2="1"><stop offset="0" stop-color="#e2a01e"/><stop offset="0.12" stop-color="#e99a1a"/><stop offset="0.28" stop-color="#fb7a0c"/><stop offset="0.4" stop-color="#ff4006"/><stop offset="0.5" stop-color="#ff2804"/><stop offset="0.6" stop-color="#ff4006"/><stop offset="0.72" stop-color="#fb7a0c"/><stop offset="0.86" stop-color="#e99a1a"/><stop offset="1" stop-color="#e2a01e"/></linearGradient><linearGradient id="gl" x1="0" y1="0" x2="0" y2="1"><stop offset="0" stop-color="#f0a020"/><stop offset="0.5" stop-color="#ff2a08"/><stop offset="1" stop-color="#f0a020"/></linearGradient></defs>
<rect x="57.2" y="300.98" width="11.2" height="60.52" fill="#0a2cff"/>
<line x1="55.2" y1="300.98" x2="70.4" y2="300.98" stroke="#0000e6" stroke-width="1"/>
<circle cx="55.2" cy="300.98" r="1.55" fill="#0000e6"/>
<circle cx="70.4" cy="300.98" r="1.55" fill="#0000e6"/>
<rect x="87.53" y="310.58" width="11.2" height="50.92" fill="#79d3ff"/>
<line x1="85.53" y1="310.58" x2="100.73" y2="310.58" stroke="#2e9cff" stroke-width="1"/>
<circle cx="85.53" cy="310.58" r="1.55" fill="#2e9cff"/>
<circle cx="100.73" cy="310.58" r="1.55" fill="#2e9cff"/>
<rect x="117.86" y="291.79" width="11.2" height="69.71" fill="#0a2cff"/>
<line x1="115.86" y1="291.79" x2="131.06" y2="291.79" stroke="#0000e6" stroke-width="1"/>
<circle cx="115.86" cy="291.79" r="1.55" fill="#0000e6"/>
<circle cx="131.06" cy="291.79" r="1.55" fill="#0000e6"/>
<rect x="148.19" y="301.44" width="11.2" height="60.06" fill="#79d3ff"/>
<line x1="146.19" y1="301.44" x2="161.39" y2="301.44" stroke="#2e9cff" stroke-width="1"/>
<circle cx="146.19" cy="301.44" r="1.55" fill="#2e9cff"/>
<circle cx="161.39" cy="301.44" r="1.55" fill="#2e9cff"/>
<rect x="178.52" y="291.12" width="11.2" height="70.38" fill="#0a2cff"/>
<line x1="176.52" y1="291.12" x2="191.72" y2="291.12" stroke="#0000e6" stroke-width="1"/>
<circle cx="176.52" cy="291.12" r="1.55" fill="#0000e6"/>
<circle cx="191.72" cy="291.12" r="1.55" fill="#0000e6"/>
<rect x="208.85" y="297.8" width="11.2" height="63.7" fill="#79d3ff"/>
<line x1="206.85" y1="297.8" x2="222.05" y2="297.8" stroke="#2e9cff" stroke-width="1"/>
<circle cx="206.85" cy="297.8" r="1.55" fill="#2e9cff"/>
<circle cx="222.05" cy="297.8" r="1.55" fill="#2e9cff"/>
<rect x="47.6" y="207.5" width="181.7" height="154" fill="none" stroke="#222" stroke-width="1.0"/>
<line x1="44.9" y1="361.5" x2="47.6" y2="361.5" stroke="#222" stroke-width="1"/>
<text x="39.8" y="365.2" font-size="13.2" text-anchor="end" font-weight="normal" fill="#111" stroke="#111" stroke-width="0.25" >0.0</text>
<line x1="45.8" y1="356.37" x2="47.6" y2="356.37" stroke="#222" stroke-width="1"/>
<line x1="45.8" y1="351.23" x2="47.6" y2="351.23" stroke="#222" stroke-width="1"/>
<line x1="45.8" y1="346.1" x2="47.6" y2="346.1" stroke="#222" stroke-width="1"/>
<line x1="45.8" y1="340.97" x2="47.6" y2="340.97" stroke="#222" stroke-width="1"/>
<line x1="44.9" y1="335.83" x2="47.6" y2="335.83" stroke="#222" stroke-width="1"/>
<text x="39.8" y="339.53" font-size="13.2" text-anchor="end" font-weight="normal" fill="#111" stroke="#111" stroke-width="0.25" >0.5</text>
<line x1="45.8" y1="330.7" x2="47.6" y2="330.7" stroke="#222" stroke-width="1"/>
<line x1="45.8" y1="325.57" x2="47.6" y2="325.57" stroke="#222" stroke-width="1"/>
<line x1="45.8" y1="320.43" x2="47.6" y2="320.43" stroke="#222" stroke-width="1"/>
<line x1="45.8" y1="315.3" x2="47.6" y2="315.3" stroke="#222" stroke-width="1"/>
<line x1="44.9" y1="310.17" x2="47.6" y2="310.17" stroke="#222" stroke-width="1"/>
<text x="39.8" y="313.87" font-size="13.2" text-anchor="end" font-weight="normal" fill="#111" stroke="#111" stroke-width="0.25" >1.0</text>
<line x1="45.8" y1="305.03" x2="47.6" y2="305.03" stroke="#222" stroke-width="1"/>
<line x1="45.8" y1="299.9" x2="47.6" y2="299.9" stroke="#222" stroke-width="1"/>
<line x1="45.8" y1="294.77" x2="47.6" y2="294.77" stroke="#222" stroke-width="1"/>
<line x1="45.8" y1="289.63" x2="47.6" y2="289.63" stroke="#222" stroke-width="1"/>
<line x1="44.9" y1="284.5" x2="47.6" y2="284.5" stroke="#222" stroke-width="1"/>
<text x="39.8" y="288.2" font-size="13.2" text-anchor="end" font-weight="normal" fill="#111" stroke="#111" stroke-width="0.25" >1.5</text>
<line x1="45.8" y1="279.37" x2="47.6" y2="279.37" stroke="#222" stroke-width="1"/>
<line x1="45.8" y1="274.23" x2="47.6" y2="274.23" stroke="#222" stroke-width="1"/>
<line x1="45.8" y1="269.1" x2="47.6" y2="269.1" stroke="#222" stroke-width="1"/>
<line x1="45.8" y1="263.97" x2="47.6" y2="263.97" stroke="#222" stroke-width="1"/>
<line x1="44.9" y1="258.83" x2="47.6" y2="258.83" stroke="#222" stroke-width="1"/>
<text x="39.8" y="262.53" font-size="13.2" text-anchor="end" font-weight="normal" fill="#111" stroke="#111" stroke-width="0.25" >2.0</text>
<line x1="45.8" y1="253.7" x2="47.6" y2="253.7" stroke="#222" stroke-width="1"/>
<line x1="45.8" y1="248.57" x2="47.6" y2="248.57" stroke="#222" stroke-width="1"/>
<line x1="45.8" y1="243.43" x2="47.6" y2="243.43" stroke="#222" stroke-width="1"/>
<line x1="45.8" y1="238.3" x2="47.6" y2="238.3" stroke="#222" stroke-width="1"/>
<line x1="44.9" y1="233.17" x2="47.6" y2="233.17" stroke="#222" stroke-width="1"/>
<text x="39.8" y="236.87" font-size="13.2" text-anchor="end" font-weight="normal" fill="#111" stroke="#111" stroke-width="0.25" >2.5</text>
<line x1="45.8" y1="228.03" x2="47.6" y2="228.03" stroke="#222" stroke-width="1"/>
<line x1="45.8" y1="222.9" x2="47.6" y2="222.9" stroke="#222" stroke-width="1"/>
<line x1="45.8" y1="217.77" x2="47.6" y2="217.77" stroke="#222" stroke-width="1"/>
<line x1="45.8" y1="212.63" x2="47.6" y2="212.63" stroke="#222" stroke-width="1"/>
<line x1="44.9" y1="207.5" x2="47.6" y2="207.5" stroke="#222" stroke-width="1"/>
<text x="39.8" y="211.2" font-size="13.2" text-anchor="end" font-weight="normal" fill="#111" stroke="#111" stroke-width="0.25" >3.0</text>
<rect x="125" y="214.1" width="11.3" height="9.6" fill="#0a2cff"/>
<rect x="125" y="230.9" width="11.3" height="9.6" fill="#79d3ff"/>
<text x="143" y="222.8" font-size="10.4" text-anchor="start" font-weight="bold" fill="#111" stroke="#111" stroke-width="0.25" >Ti (BO<tspan font-size="7.4" dy="2.4">2</tspan><tspan dy="-2.4">-MXene)</tspan></text>
<text x="143" y="239.6" font-size="10.4" text-anchor="start" font-weight="bold" fill="#111" stroke="#111" stroke-width="0.25" >Ti (Cl-MXene)</text>
<text x="63" y="379" font-size="13.5" text-anchor="start" font-weight="normal" fill="#111" stroke="#111" stroke-width="0.25" >Ti<tspan font-size="9.6" dy="3.4">2</tspan><tspan dy="-3.4">C</tspan></text>
<text x="122.9" y="379" font-size="13.5" text-anchor="start" font-weight="normal" fill="#111" stroke="#111" stroke-width="0.25" >Ti<tspan font-size="9.6" dy="3.4">3</tspan><tspan dy="-3.4">C</tspan><tspan font-size="9.6" dy="3.4">2</tspan></text>
<text x="183.8" y="379" font-size="13.5" text-anchor="start" font-weight="normal" fill="#111" stroke="#111" stroke-width="0.25" >Ti<tspan font-size="9.6" dy="3.4">4</tspan><tspan dy="-3.4">C</tspan><tspan font-size="9.6" dy="3.4">3</tspan></text>
<text x="26.4" y="184.7" font-size="18.1" text-anchor="start" font-weight="normal" fill="#111" stroke="#111" stroke-width="0.25" >(d)</text>
<rect x="283.1" y="305.2" width="11.2" height="57.3" fill="#8b4513"/>
<line x1="281.1" y1="305.2" x2="296.3" y2="305.2" stroke="#7a3810" stroke-width="1"/>
<circle cx="281.1" cy="305.2" r="1.55" fill="#7a3810"/>
<circle cx="296.3" cy="305.2" r="1.55" fill="#7a3810"/>
<rect x="313.43" y="306.6" width="11.2" height="55.9" fill="#dca46e"/>
<line x1="311.43" y1="306.6" x2="326.63" y2="306.6" stroke="#de8c3e" stroke-width="1"/>
<circle cx="311.43" cy="306.6" r="1.55" fill="#de8c3e"/>
<circle cx="326.63" cy="306.6" r="1.55" fill="#de8c3e"/>
<rect x="343.76" y="293.63" width="11.2" height="68.87" fill="#8b4513"/>
<line x1="341.76" y1="293.63" x2="356.96" y2="293.63" stroke="#7a3810" stroke-width="1"/>
<circle cx="341.76" cy="293.63" r="1.55" fill="#7a3810"/>
<circle cx="356.96" cy="293.63" r="1.55" fill="#7a3810"/>
<rect x="374.09" y="296.26" width="11.2" height="66.24" fill="#dca46e"/>
<line x1="372.09" y1="296.26" x2="387.29" y2="296.26" stroke="#de8c3e" stroke-width="1"/>
<circle cx="372.09" cy="296.26" r="1.55" fill="#de8c3e"/>
<circle cx="387.29" cy="296.26" r="1.55" fill="#de8c3e"/>
<rect x="404.42" y="292.65" width="11.2" height="69.85" fill="#8b4513"/>
<line x1="402.42" y1="292.65" x2="417.62" y2="292.65" stroke="#7a3810" stroke-width="1"/>
<circle cx="402.42" cy="292.65" r="1.55" fill="#7a3810"/>
<circle cx="417.62" cy="292.65" r="1.55" fill="#7a3810"/>
<rect x="434.75" y="294.35" width="11.2" height="68.15" fill="#dca46e"/>
<line x1="432.75" y1="294.35" x2="447.95" y2="294.35" stroke="#de8c3e" stroke-width="1"/>
<circle cx="432.75" cy="294.35" r="1.55" fill="#de8c3e"/>
<circle cx="447.95" cy="294.35" r="1.55" fill="#de8c3e"/>
<rect x="273.5" y="207.5" width="181.9" height="155" fill="none" stroke="#222" stroke-width="1.0"/>
<line x1="270.8" y1="362.5" x2="273.5" y2="362.5" stroke="#222" stroke-width="1"/>
<text x="266" y="366.2" font-size="13.2" text-anchor="end" font-weight="normal" fill="#111" stroke="#111" stroke-width="0.25" >0.0</text>
<line x1="271.7" y1="357.33" x2="273.5" y2="357.33" stroke="#222" stroke-width="1"/>
<line x1="271.7" y1="352.17" x2="273.5" y2="352.17" stroke="#222" stroke-width="1"/>
<line x1="271.7" y1="347" x2="273.5" y2="347" stroke="#222" stroke-width="1"/>
<line x1="271.7" y1="341.83" x2="273.5" y2="341.83" stroke="#222" stroke-width="1"/>
<line x1="270.8" y1="336.67" x2="273.5" y2="336.67" stroke="#222" stroke-width="1"/>
<text x="266" y="340.37" font-size="13.2" text-anchor="end" font-weight="normal" fill="#111" stroke="#111" stroke-width="0.25" >-0.5</text>
<line x1="271.7" y1="331.5" x2="273.5" y2="331.5" stroke="#222" stroke-width="1"/>
<line x1="271.7" y1="326.33" x2="273.5" y2="326.33" stroke="#222" stroke-width="1"/>
<line x1="271.7" y1="321.17" x2="273.5" y2="321.17" stroke="#222" stroke-width="1"/>
<line x1="271.7" y1="316" x2="273.5" y2="316" stroke="#222" stroke-width="1"/>
<line x1="270.8" y1="310.83" x2="273.5" y2="310.83" stroke="#222" stroke-width="1"/>
<text x="266" y="314.53" font-size="13.2" text-anchor="end" font-weight="normal" fill="#111" stroke="#111" stroke-width="0.25" >-1.0</text>
<line x1="271.7" y1="305.67" x2="273.5" y2="305.67" stroke="#222" stroke-width="1"/>
<line x1="271.7" y1="300.5" x2="273.5" y2="300.5" stroke="#222" stroke-width="1"/>
<line x1="271.7" y1="295.33" x2="273.5" y2="295.33" stroke="#222" stroke-width="1"/>
<line x1="271.7" y1="290.17" x2="273.5" y2="290.17" stroke="#222" stroke-width="1"/>
<line x1="270.8" y1="285" x2="273.5" y2="285" stroke="#222" stroke-width="1"/>
<text x="266" y="288.7" font-size="13.2" text-anchor="end" font-weight="normal" fill="#111" stroke="#111" stroke-width="0.25" >-1.5</text>
<line x1="271.7" y1="279.83" x2="273.5" y2="279.83" stroke="#222" stroke-width="1"/>
<line x1="271.7" y1="274.67" x2="273.5" y2="274.67" stroke="#222" stroke-width="1"/>
<line x1="271.7" y1="269.5" x2="273.5" y2="269.5" stroke="#222" stroke-width="1"/>
<line x1="271.7" y1="264.33" x2="273.5" y2="264.33" stroke="#222" stroke-width="1"/>
<line x1="270.8" y1="259.17" x2="273.5" y2="259.17" stroke="#222" stroke-width="1"/>
<text x="266" y="262.87" font-size="13.2" text-anchor="end" font-weight="normal" fill="#111" stroke="#111" stroke-width="0.25" >-2.0</text>
<line x1="271.7" y1="254" x2="273.5" y2="254" stroke="#222" stroke-width="1"/>
<line x1="271.7" y1="248.83" x2="273.5" y2="248.83" stroke="#222" stroke-width="1"/>
<line x1="271.7" y1="243.67" x2="273.5" y2="243.67" stroke="#222" stroke-width="1"/>
<line x1="271.7" y1="238.5" x2="273.5" y2="238.5" stroke="#222" stroke-width="1"/>
<line x1="270.8" y1="233.33" x2="273.5" y2="233.33" stroke="#222" stroke-width="1"/>
<text x="266" y="237.03" font-size="13.2" text-anchor="end" font-weight="normal" fill="#111" stroke="#111" stroke-width="0.25" >-2.5</text>
<line x1="271.7" y1="228.17" x2="273.5" y2="228.17" stroke="#222" stroke-width="1"/>
<line x1="271.7" y1="223" x2="273.5" y2="223" stroke="#222" stroke-width="1"/>
<line x1="271.7" y1="217.83" x2="273.5" y2="217.83" stroke="#222" stroke-width="1"/>
<line x1="271.7" y1="212.67" x2="273.5" y2="212.67" stroke="#222" stroke-width="1"/>
<line x1="270.8" y1="207.5" x2="273.5" y2="207.5" stroke="#222" stroke-width="1"/>
<text x="266" y="211.2" font-size="13.2" text-anchor="end" font-weight="normal" fill="#111" stroke="#111" stroke-width="0.25" >-3.0</text>
<rect x="351.9" y="214.1" width="11.3" height="9.6" fill="#8b4513"/>
<rect x="351.9" y="230.9" width="11.3" height="9.6" fill="#dca46e"/>
<text x="369.8" y="222.8" font-size="10.4" text-anchor="start" font-weight="bold" fill="#111" stroke="#111" stroke-width="0.25" >C (BO<tspan font-size="7.4" dy="2.4">2</tspan><tspan dy="-2.4">-MXene)</tspan></text>
<text x="369.8" y="239.6" font-size="10.4" text-anchor="start" font-weight="bold" fill="#111" stroke="#111" stroke-width="0.25" >C (Cl-MXene)</text>
<text x="291.8" y="379" font-size="13.5" text-anchor="start" font-weight="normal" fill="#111" stroke="#111" stroke-width="0.25" >Ti<tspan font-size="9.6" dy="3.4">2</tspan><tspan dy="-3.4">C</tspan></text>
<text x="351.8" y="379" font-size="13.5" text-anchor="start" font-weight="normal" fill="#111" stroke="#111" stroke-width="0.25" >Ti<tspan font-size="9.6" dy="3.4">3</tspan><tspan dy="-3.4">C</tspan><tspan font-size="9.6" dy="3.4">2</tspan></text>
<text x="410.1" y="379" font-size="13.5" text-anchor="start" font-weight="normal" fill="#111" stroke="#111" stroke-width="0.25" >Ti<tspan font-size="9.6" dy="3.4">4</tspan><tspan dy="-3.4">C</tspan><tspan font-size="9.6" dy="3.4">3</tspan></text>
<text x="242.3" y="184.7" font-size="18.1" text-anchor="start" font-weight="normal" fill="#111" stroke="#111" stroke-width="0.25" >(e)</text>
<rect x="504.1" y="265.16" width="11.2" height="97.34" fill="url(#gb)"/>
<line x1="502.1" y1="265.16" x2="517.3" y2="265.16" stroke="#e3a024" stroke-width="1"/>
<circle cx="502.1" cy="265.16" r="1.55" fill="#e3a024"/>
<circle cx="517.3" cy="265.16" r="1.55" fill="#e3a024"/>
<rect x="534.43" y="298.18" width="11.2" height="64.32" fill="#037c03"/>
<line x1="532.43" y1="298.18" x2="547.63" y2="298.18" stroke="#067006" stroke-width="1"/>
<circle cx="532.43" cy="298.18" r="1.55" fill="#067006"/>
<circle cx="547.63" cy="298.18" r="1.55" fill="#067006"/>
<rect x="564.76" y="262.06" width="11.2" height="100.44" fill="url(#gb)"/>
<line x1="562.76" y1="262.06" x2="577.96" y2="262.06" stroke="#e3a024" stroke-width="1"/>
<circle cx="562.76" cy="262.06" r="1.55" fill="#e3a024"/>
<circle cx="577.96" cy="262.06" r="1.55" fill="#e3a024"/>
<rect x="595.09" y="293.37" width="11.2" height="69.13" fill="#037c03"/>
<line x1="593.09" y1="293.37" x2="608.29" y2="293.37" stroke="#067006" stroke-width="1"/>
<circle cx="593.09" cy="293.37" r="1.55" fill="#067006"/>
<circle cx="608.29" cy="293.37" r="1.55" fill="#067006"/>
<rect x="625.42" y="260.66" width="11.2" height="101.84" fill="url(#gb)"/>
<line x1="623.42" y1="260.66" x2="638.62" y2="260.66" stroke="#e3a024" stroke-width="1"/>
<circle cx="623.42" cy="260.66" r="1.55" fill="#e3a024"/>
<circle cx="638.62" cy="260.66" r="1.55" fill="#e3a024"/>
<rect x="655.75" y="288.25" width="11.2" height="74.25" fill="#037c03"/>
<line x1="653.75" y1="288.25" x2="668.95" y2="288.25" stroke="#067006" stroke-width="1"/>
<circle cx="653.75" cy="288.25" r="1.55" fill="#067006"/>
<circle cx="668.95" cy="288.25" r="1.55" fill="#067006"/>
<rect x="494.5" y="207.5" width="182" height="155" fill="none" stroke="#222" stroke-width="1.0"/>
<line x1="491.8" y1="362.5" x2="494.5" y2="362.5" stroke="#222" stroke-width="1"/>
<text x="487.7" y="366.2" font-size="13.2" text-anchor="end" font-weight="normal" fill="#111" stroke="#111" stroke-width="0.25" >0.0</text>
<line x1="492.7" y1="354.75" x2="494.5" y2="354.75" stroke="#222" stroke-width="1"/>
<line x1="492.7" y1="347" x2="494.5" y2="347" stroke="#222" stroke-width="1"/>
<line x1="492.7" y1="339.25" x2="494.5" y2="339.25" stroke="#222" stroke-width="1"/>
<line x1="491.8" y1="331.5" x2="494.5" y2="331.5" stroke="#222" stroke-width="1"/>
<text x="487.7" y="335.2" font-size="13.2" text-anchor="end" font-weight="normal" fill="#111" stroke="#111" stroke-width="0.25" >-0.2</text>
<line x1="492.7" y1="323.75" x2="494.5" y2="323.75" stroke="#222" stroke-width="1"/>
<line x1="492.7" y1="316" x2="494.5" y2="316" stroke="#222" stroke-width="1"/>
<line x1="492.7" y1="308.25" x2="494.5" y2="308.25" stroke="#222" stroke-width="1"/>
<line x1="491.8" y1="300.5" x2="494.5" y2="300.5" stroke="#222" stroke-width="1"/>
<text x="487.7" y="304.2" font-size="13.2" text-anchor="end" font-weight="normal" fill="#111" stroke="#111" stroke-width="0.25" >-0.4</text>
<line x1="492.7" y1="292.75" x2="494.5" y2="292.75" stroke="#222" stroke-width="1"/>
<line x1="492.7" y1="285" x2="494.5" y2="285" stroke="#222" stroke-width="1"/>
<line x1="492.7" y1="277.25" x2="494.5" y2="277.25" stroke="#222" stroke-width="1"/>
<line x1="491.8" y1="269.5" x2="494.5" y2="269.5" stroke="#222" stroke-width="1"/>
<text x="487.7" y="273.2" font-size="13.2" text-anchor="end" font-weight="normal" fill="#111" stroke="#111" stroke-width="0.25" >-0.6</text>
<line x1="492.7" y1="261.75" x2="494.5" y2="261.75" stroke="#222" stroke-width="1"/>
<line x1="492.7" y1="254" x2="494.5" y2="254" stroke="#222" stroke-width="1"/>
<line x1="492.7" y1="246.25" x2="494.5" y2="246.25" stroke="#222" stroke-width="1"/>
<line x1="491.8" y1="238.5" x2="494.5" y2="238.5" stroke="#222" stroke-width="1"/>
<text x="487.7" y="242.2" font-size="13.2" text-anchor="end" font-weight="normal" fill="#111" stroke="#111" stroke-width="0.25" >-0.8</text>
<line x1="492.7" y1="230.75" x2="494.5" y2="230.75" stroke="#222" stroke-width="1"/>
<line x1="492.7" y1="223" x2="494.5" y2="223" stroke="#222" stroke-width="1"/>
<line x1="492.7" y1="215.25" x2="494.5" y2="215.25" stroke="#222" stroke-width="1"/>
<line x1="491.8" y1="207.5" x2="494.5" y2="207.5" stroke="#222" stroke-width="1"/>
<text x="487.7" y="211.2" font-size="13.2" text-anchor="end" font-weight="normal" fill="#111" stroke="#111" stroke-width="0.25" >-1.0</text>
<rect x="559" y="214.1" width="11.3" height="9.6" fill="url(#gl)"/>
<rect x="559" y="230.9" width="11.3" height="9.6" fill="#037c03"/>
<text x="576.9" y="222.8" font-size="10.4" text-anchor="start" font-weight="bold" fill="#111" stroke="#111" stroke-width="0.25" >BO<tspan font-size="7.4" dy="2.4">2</tspan><tspan dy="-2.4"> (BO</tspan><tspan font-size="7.4" dy="2.4">2</tspan><tspan dy="-2.4">-MXene)</tspan></text>
<text x="576.9" y="239.6" font-size="10.4" text-anchor="start" font-weight="bold" fill="#111" stroke="#111" stroke-width="0.25" >Cl<tspan x="598.9">(Cl-MXene)</tspan></text>
<text x="512.8" y="379" font-size="13.5" text-anchor="start" font-weight="normal" fill="#111" stroke="#111" stroke-width="0.25" >Ti<tspan font-size="9.6" dy="3.4">2</tspan><tspan dy="-3.4">C</tspan></text>
<text x="573.1" y="379" font-size="13.5" text-anchor="start" font-weight="normal" fill="#111" stroke="#111" stroke-width="0.25" >Ti<tspan font-size="9.6" dy="3.4">3</tspan><tspan dy="-3.4">C</tspan><tspan font-size="9.6" dy="3.4">2</tspan></text>
<text x="630.9" y="379" font-size="13.5" text-anchor="start" font-weight="normal" fill="#111" stroke="#111" stroke-width="0.25" >Ti<tspan font-size="9.6" dy="3.4">4</tspan><tspan dy="-3.4">C</tspan><tspan font-size="9.6" dy="3.4">3</tspan></text>
<text x="462.8" y="184.7" font-size="18.1" text-anchor="start" font-weight="normal" fill="#111" stroke="#111" stroke-width="0.25" >(f)</text>
<text transform="translate(12.9,280.4) rotate(-90)" font-size="13.5" text-anchor="middle" fill="#111" stroke="#111" stroke-width="0.25">Bader charge (e)</text>
</svg>
</body></html>
